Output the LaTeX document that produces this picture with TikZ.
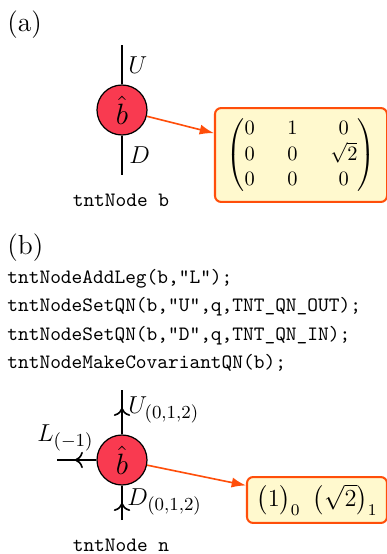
\documentclass[tikz,border=0pt]{standalone}
\usepackage{amsmath}
\usetikzlibrary{arrows.meta,decorations.markings}
\definecolor{nodered}{RGB}{249,58,80}
\definecolor{boxfill}{RGB}{255,249,206}
\definecolor{boxedge}{RGB}{255,78,10}
\begin{document}
\begin{tikzpicture}[x=0.49pt,y=-0.49pt,
  tensor/.style={circle,draw=black,line width=0.6pt,fill=nodered,minimum size=24.5pt,inner sep=0pt,font=\Large},
  leg/.style={line width=0.8pt},
  qnleg/.style={leg,postaction={decorate},decoration={markings,mark=at position #1 with {\arrow{To[length=4pt,width=8pt,line width=0.8pt]}}}},
  infobox/.style={draw=boxedge,line width=1pt,fill=boxfill,rounded corners=3pt,inner sep=0pt},
  link/.style={draw=boxedge,line width=0.8pt,-{Latex[length=7pt,width=5pt]}},
  biglbl/.style={inner sep=0pt,anchor=base west,font=\fontsize{13}{15}\selectfont},
  code/.style={inner sep=0pt,anchor=base west,font=\ttfamily},
  caption/.style={inner sep=0pt,anchor=base,font=\ttfamily},
  panel/.style={inner sep=0pt,anchor=base west,font=\fontsize{13.5}{16}\selectfont}]
\useasboundingbox (0,0) rectangle (387,554);

% ---------- (a) ----------
\node[panel] (pa) at (7,31) {(a)};
\node[tensor] (ca) at (122,110) {$\hat{b}$};
\coordinate (ua) at (122,45);
\coordinate (da) at (122,175);
\draw[leg] (ca.north) -- (ua);
\draw[leg] (ca.south) -- (da);
\node[biglbl] (lua) at (128,73) {$U$};
\node[biglbl] (lda) at (129,163) {$D$};
\node[caption] (capa) at (121,206) {tntNode b};
\node[infobox,minimum width=84.3pt,minimum height=46pt] (ma) at (301,155)
  {$\setlength{\arraycolsep}{8pt}\begin{pmatrix}0&1&0\\0&0&\sqrt{2}\\0&0&0\end{pmatrix}$};
\draw[link] (ca) -- (ma);

% ---------- (b) ----------
\node[panel] (pb) at (7,254) {(b)};
\node[code] (c1) at (7,283) {tntNodeAddLeg(b,"L");};
\node[code] (c2) at (7,311.5) {tntNodeSetQN(b,"U",q,TNT\_QN\_OUT);};
\node[code] (c3) at (7,340) {tntNodeSetQN(b,"D",q,TNT\_QN\_IN);};
\node[code] (c4) at (7,368) {tntNodeMakeCovariantQN(b);};

\node[tensor] (cb) at (122,460) {$\hat{b}$};
\coordinate (ub) at (122,390);
\coordinate (db) at (122,520);
\coordinate (lb) at (57,460);
\draw[qnleg=0.6] (cb.north) -- (ub);
\draw[qnleg=0.5] (db) -- (cb.south);
\draw[qnleg=0.55] (cb.west) -- (lb);
\node[biglbl] (lub) at (128,413) {$U_{(0,1,2)}$};
\node[biglbl] (ldb) at (127,505) {$D_{(0,1,2)}$};
\node[biglbl] (llb) at (37,441) {$L_{(-1)}$};
\node[caption] (capb) at (121,551) {tntNode n};
\node[infobox,minimum width=68.6pt,minimum height=22.5pt,font=\fontsize{11.5}{14}\selectfont] (mb) at (317,500)
  {$\bigl(1\bigr)_0\hskip 6pt\bigl(\sqrt{2}\bigr)_1$};
\draw[link] (cb) -- (mb);
\end{tikzpicture}
\end{document}
